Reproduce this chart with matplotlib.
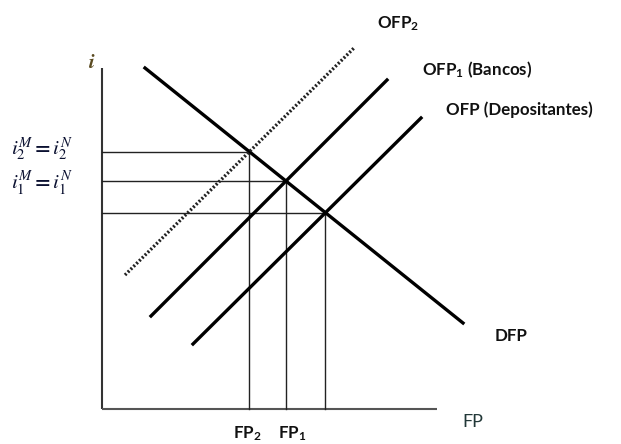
import numpy as np
import matplotlib
matplotlib.use("Agg")
import matplotlib.pyplot as plt

plt.rcParams['font.family'] = ['Lato', 'DejaVu Sans']
plt.rcParams['mathtext.fontset'] = 'custom'
plt.rcParams['mathtext.rm'] = 'Lato:bold'
plt.rcParams['mathtext.it'] = 'Lato:bold'

# curve end points (abstract units, origin at the axes corner)
dfp_x = [43, 361]
dfp_y = [341, 86]
ofp2_x = [23, 253]
ofp2_y = [134, 362]
ofp1_x = [49, 285]
ofp1_y = [93, 329]
ofp_x = [91, 319]
ofp_y = [65, 291]

x_axis_end = 335
y_axis_end = 341


def line_coef(xs, ys):
    m = (ys[1] - ys[0]) / (xs[1] - xs[0])
    return m, ys[0] - m * xs[0]


def cross(xa, ya, xb, yb):
    m1, b1 = line_coef(xa, ya)
    m2, b2 = line_coef(xb, yb)
    x = (b2 - b1) / (m1 - m2)
    return x, m1 * x + b1


fig = plt.figure(figsize=(6.21, 4.44), dpi=100)
ax = fig.add_axes([0, 0, 1, 1])
ax.set_xlim(-102, 519)
ax.set_ylim(-35, 409)
ax.axis('off')

# axes
ax.plot([0, 0], [0, y_axis_end], color='#333333', lw=1.5, solid_capstyle='butt')
ax.plot([0, x_axis_end], [0, 0], color='#555555', lw=1.5, solid_capstyle='butt')

# equilibria guides
for sx, sy in [(ofp2_x, ofp2_y), (ofp1_x, ofp1_y), (ofp_x, ofp_y)]:
    ex, ey = cross(dfp_x, dfp_y, sx, sy)
    ax.plot([0, ex], [ey, ey], color='#222222', lw=1.0)
    ax.plot([ex, ex], [0, ey], color='#222222', lw=1.0)

ax.plot(dfp_x, dfp_y, color='black', lw=2.4)
ax.plot(ofp1_x, ofp1_y, color='black', lw=2.4)
ax.plot(ofp_x, ofp_y, color='black', lw=2.4)
ax.plot(ofp2_x, ofp2_y, color='#222222', lw=2.4, linestyle=(0, (0.6, 0.6)))

txt = '#111111'
fs = 12.2
ax.text(275, 385, 'OFP$_2$', fontsize=fs, fontweight='bold', color=txt, va='center')
ax.text(320, 339, 'OFP$_1$ (Bancos)', fontsize=fs, fontweight='bold', color=txt, va='center')
ax.text(344, 299, 'OFP (Depositantes)', fontsize=fs, fontweight='bold', color=txt, va='center')
ax.text(393, 73, 'DFP', fontsize=fs, fontweight='bold', color=txt, va='center')

ax.text(-10, 347, r'$\boldsymbol{i}$', fontsize=15, color='#5a4a20', ha='center', va='center',
        math_fontfamily='stix')
ax.text(-91, 260, r'$\boldsymbol{i_2^M = i_2^N}$',
        fontsize=15, color='#0a1030', ha='left', va='center', math_fontfamily='stix')
ax.text(-91, 225, r'$\boldsymbol{i_1^M = i_1^N}$',
        fontsize=15, color='#0a1030', ha='left', va='center', math_fontfamily='stix')

ax.text(371, -13, 'FP', fontsize=13, color='#223838', ha='center', va='center')
ax.text(145, -34, 'FP$_2$', fontsize=fs, fontweight='bold', color=txt, ha='center', va='bottom')
ax.text(190, -34, 'FP$_1$', fontsize=fs, fontweight='bold', color=txt, ha='center', va='bottom')

fig.savefig('out.png', dpi=100)
